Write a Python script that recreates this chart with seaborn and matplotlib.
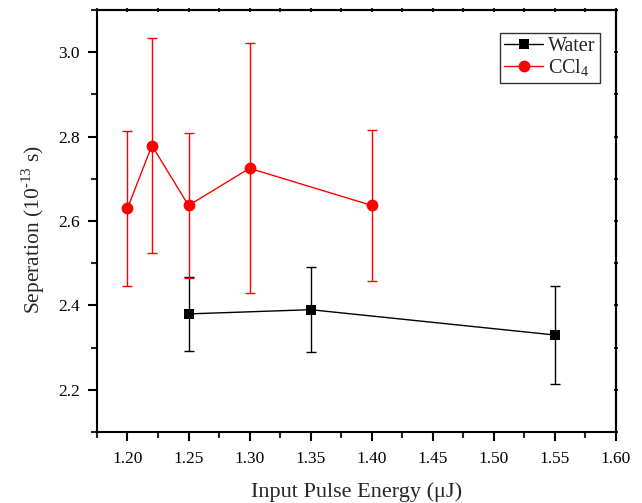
import matplotlib
matplotlib.use("Agg")
import matplotlib.pyplot as plt
import seaborn as sns
import pandas as pd
from matplotlib.ticker import MultipleLocator, FormatStrFormatter

water_x = [1.25, 1.35, 1.55]
water_y = [2.380, 2.390, 2.330]
water_err = [0.087, 0.100, 0.115]

ccl4_x = [1.20, 1.22, 1.25, 1.30, 1.40]
ccl4_y = [2.630, 2.779, 2.637, 2.725, 2.637]
ccl4_err = [0.183, 0.254, 0.172, 0.296, 0.178]

sns.set_style("ticks")
plt.rcParams['font.family'] = ['Liberation Serif', 'DejaVu Serif']
plt.rcParams['mathtext.fontset'] = 'custom'
plt.rcParams['mathtext.rm'] = 'Liberation Serif'

fig = plt.figure(figsize=(6.42, 5.03), dpi=100)
ax = fig.add_axes([0.151, 0.141, 0.8085, 0.839])

dw = pd.DataFrame({"x": water_x, "y": water_y})
dc = pd.DataFrame({"x": ccl4_x, "y": ccl4_y})

ax.errorbar(water_x, water_y, yerr=water_err, fmt='none', ecolor='black',
            elinewidth=1.0, capsize=3.8, capthick=1.0, zorder=2)
ax.errorbar(ccl4_x, ccl4_y, yerr=ccl4_err, fmt='none', ecolor='#ff0000',
            elinewidth=1.0, capsize=3.8, capthick=1.0, zorder=2)

sns.lineplot(data=dw, x="x", y="y", ax=ax, color='black', marker='s',
             markersize=7.5, markeredgewidth=0, linewidth=1.0, label='Water', zorder=3)
sns.lineplot(data=dc, x="x", y="y", ax=ax, color='#ff0000', marker='o',
             markersize=8.5, markeredgewidth=0, linewidth=1.0, label='CCl$_4$', zorder=3)

ax.set_xlim(1.175, 1.60)
ax.set_ylim(2.1, 3.1)
ax.xaxis.set_major_locator(MultipleLocator(0.05))
ax.xaxis.set_minor_locator(MultipleLocator(0.025))
ax.yaxis.set_major_locator(MultipleLocator(0.2))
ax.yaxis.set_minor_locator(MultipleLocator(0.1))
ax.xaxis.set_major_formatter(FormatStrFormatter('%.2f'))
ax.yaxis.set_major_formatter(FormatStrFormatter('%.1f'))

for s in ax.spines.values():
    s.set_visible(True)
    s.set_linewidth(1.5)
    s.set_color('black')

ax.tick_params(axis='both', which='major', direction='out', length=6.5, width=1.5,
               labelsize=12.5, colors='black', bottom=True, left=True, top=False, right=False)
ax.tick_params(axis='both', which='minor', direction='out', length=4, width=1.5,
               bottom=True, left=True, top=False, right=False)
ax.tick_params(axis='x', which='major', pad=7)
ax.tick_params(axis='y', which='major', pad=6)

secx = ax.secondary_xaxis('top')
secx.xaxis.set_major_locator(MultipleLocator(0.05))
secx.xaxis.set_minor_locator(MultipleLocator(0.025))
secx.tick_params(which='both', direction='inout', length=2.5, width=1.5, labeltop=False)
secy = ax.secondary_yaxis('right')
secy.yaxis.set_major_locator(MultipleLocator(0.2))
secy.yaxis.set_minor_locator(MultipleLocator(0.1))
secy.tick_params(which='both', direction='inout', length=2.5, width=1.5, labelright=False)
for sa in (secx, secy):
    for s in sa.spines.values():
        s.set_linewidth(1.5)

ax.set_xlabel('Input Pulse Energy (μJ)', fontsize=16, labelpad=11)
ax.set_ylabel('Seperation (10$^{\\mathrm{\u2010}13}$ s)', fontsize=15.5, labelpad=8)
ax.yaxis.set_label_coords(-0.097, 0.48)

leg = ax.legend(loc='upper right', bbox_to_anchor=(0.969, 0.945), fontsize=14.5,
                frameon=True, fancybox=False, edgecolor='black', handlelength=1.95,
                handletextpad=0.25, borderpad=0.2, labelspacing=0.05, borderaxespad=0)
leg.get_frame().set_linewidth(1.0)

fig.savefig("out.png", dpi=100)
